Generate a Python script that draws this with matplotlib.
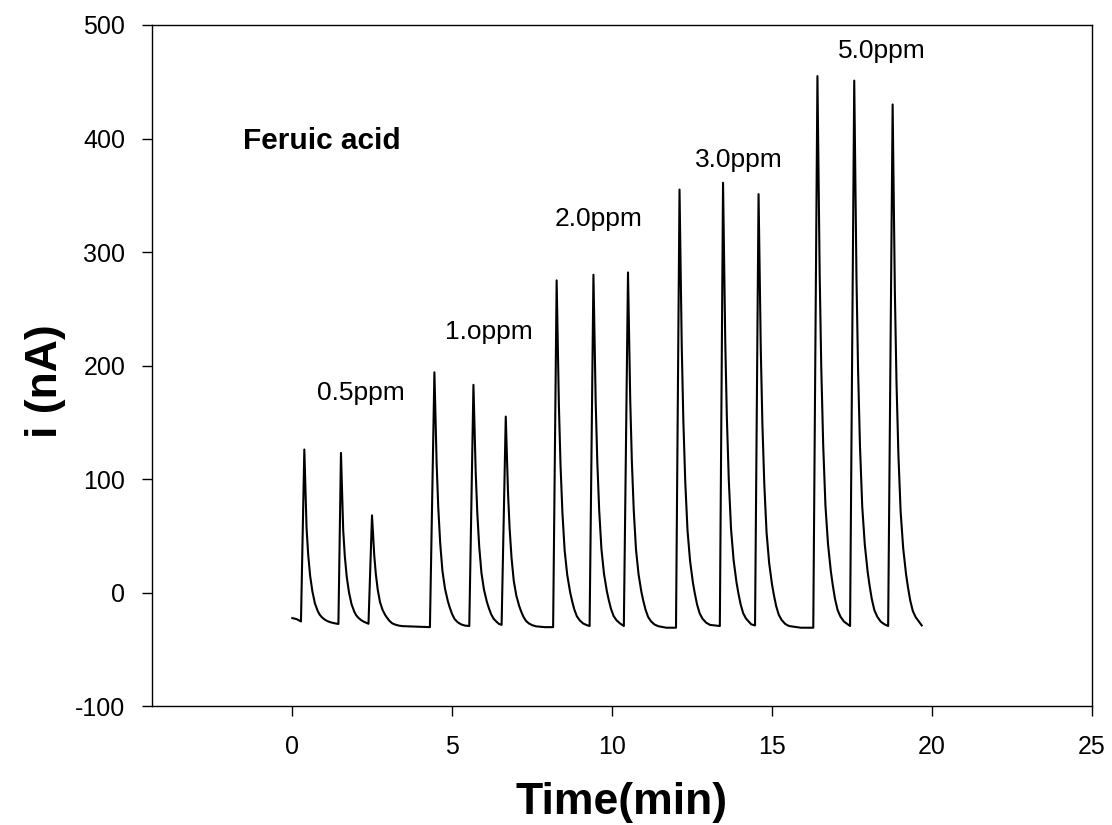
"""Amperometric response of ferulic acid at increasing concentrations."""

import matplotlib.pyplot as plt
import numpy as np

plt.rcParams["font.family"] = ["Liberation Sans", "DejaVu Sans"]
plt.rcParams["axes.unicode_minus"] = False

t_05ppm = [0.01, 0.15, 0.28, 0.385, 0.415, 0.455, 0.505, 0.565, 0.635, 0.715, 0.805, 0.865, 0.935, 1.015,
           1.105, 1.215, 1.335,
           1.45, 1.53, 1.56, 1.60, 1.65, 1.71, 1.78, 1.86, 1.95, 2.01, 2.08, 2.16, 2.25,
           2.39, 2.50, 2.53, 2.57, 2.62, 2.68, 2.75, 2.83, 2.92, 2.98, 3.05, 3.13, 3.22, 3.33, 3.45, 3.80]
i_05ppm = [-22.5, -23.5, -25.5, 126, 95.2, 56.7, 33.6, 15.1, 1.3, -9.5, -16.4, -19.5, -21.8, -23.7,
           -25.2, -26.3, -27.1,
           -27.7, 123, 92.7, 54.8, 32.1, 13.9, 0.3, -10.3, -17.1, -20.2, -22.4, -24.3, -25.8,
           -27.5, 68, 52.3, 32.7, 16.1, 2.3, -8.4, -15.3, -20.2, -22.6, -25.1, -27.1, -28.2, -29.1, -29.6, -30.0]

t_10ppm = [4.31, 4.45, 4.48, 4.52, 4.57, 4.63, 4.70, 4.78, 4.87, 4.93, 5.00, 5.08, 5.17, 5.28, 5.40,
           5.54, 5.67, 5.70, 5.74, 5.79, 5.85, 5.92, 6.00, 6.09, 6.15, 6.22, 6.30, 6.39, 6.47,
           6.55, 6.68, 6.71, 6.75, 6.80, 6.86, 6.93, 7.01, 7.10, 7.16, 7.23, 7.31, 7.40, 7.51, 7.63, 7.90]
i_10ppm = [-30.5, 194, 158.2, 113.4, 75.3, 43.9, 19.3, 3.6, -7.6, -13.2, -18.8, -23.3, -26.0, -28.0, -29.1,
           -29.5, 183, 149, 106.5, 70.4, 40.6, 17.3, 2.4, -8.2, -13.6, -18.9, -23.1, -25.7, -27.7,
           -28.5, 155, 125.3, 88.2, 56.7, 30.7, 10.3, -2.7, -11.9, -16.6, -21.2, -24.9, -27.2, -28.8, -29.8, -30.5]

t_20ppm = [8.16, 8.27, 8.30, 8.34, 8.39, 8.45, 8.52, 8.60, 8.69, 8.75, 8.82, 8.90, 8.99, 9.10, 9.22,
           9.30, 9.42, 9.45, 9.49, 9.54, 9.60, 9.67, 9.75, 9.84, 9.90, 9.97, 10.05, 10.14, 10.25,
           10.37, 10.50, 10.53, 10.57, 10.62, 10.68, 10.75, 10.83, 10.92, 10.98, 11.05, 11.13, 11.22, 11.33,
           11.45, 11.70]
i_20ppm = [-30.5, 275, 226.2, 165.2, 113.4, 70.7, 37.1, 15.8, 0.5, -7.1, -14.7, -20.8, -24.5, -27.3, -28.8,
           -29.5, 280, 230.4, 168.4, 115.7, 72.3, 38.2, 16.5, 1.0, -6.7, -14.5, -20.7, -24.4, -27.2,
           -29.5, 282, 231.9, 169.3, 116.1, 72.3, 37.9, 16.0, 0.3, -7.5, -15.3, -21.6, -25.4, -28.2,
           -29.7, -31.0]

t_30ppm = [12.00, 12.11, 12.14, 12.18, 12.23, 12.29, 12.36, 12.44, 12.53, 12.59, 12.66, 12.74, 12.83,
           12.94, 13.06,
           13.37, 13.47, 13.50, 13.54, 13.59, 13.65, 13.72, 13.80, 13.89, 13.95, 14.02, 14.10, 14.19, 14.35,
           14.47, 14.58, 14.61, 14.65, 14.70, 14.76, 14.83, 14.91, 15.00, 15.06, 15.13, 15.21, 15.30, 15.41,
           15.53, 15.90]
i_30ppm = [-31.0, 355, 293.4, 216.4, 151.0, 97.1, 54.7, 27.8, 8.5, -1.1, -10.7, -18.4, -23.1,
           -26.5, -28.5,
           -29.5, 361, 298.4, 220.2, 153.8, 99.0, 56.0, 28.7, 9.1, -0.7, -10.4, -18.3, -23.0, -28.0,
           -29.0, 351, 289.9, 213.5, 148.5, 95.1, 53.0, 26.3, 7.2, -2.3, -11.9, -19.5, -24.1, -27.6,
           -29.5, -31.0]

t_50ppm = [16.29, 16.42, 16.45, 16.49, 16.54, 16.60, 16.67, 16.75, 16.84, 16.90, 16.97, 17.05, 17.14,
           17.25, 17.37,
           17.44, 17.57, 17.60, 17.64, 17.69, 17.75, 17.82, 17.90, 17.99, 18.05, 18.12, 18.20, 18.29, 18.40,
           18.52,
           18.63, 18.77, 18.80, 18.84, 18.89, 18.95, 19.02, 19.10, 19.19, 19.25, 19.32, 19.40, 19.49, 19.60,
           19.68]
i_50ppm = [-31.0, 455, 377.4, 280.4, 198.0, 130.0, 76.7, 42.8, 18.5, 6.4, -5.7, -15.4, -21.3,
           -25.6, -28.1,
           -29.5, 451, 374.0, 277.8, 196.1, 128.7, 75.8, 42.2, 18.1, 6.1, -5.9, -15.6, -21.3, -25.7,
           -28.1,
           -29.5, 430, 356.4, 264.4, 186.2, 121.8, 71.2, 39.0, 16.0, 4.5, -7.0, -16.2, -21.7, -25.9,
           -29.0]

conc_labels = ["0.5ppm", "1.oppm", "2.0ppm", "3.0ppm", "5.0ppm"]
label_x = [0.78, 4.78, 8.22, 12.59, 17.06]
label_y = [170, 223, 323, 375, 471]


def main() -> None:
    time = np.concatenate([t_05ppm, t_10ppm, t_20ppm, t_30ppm, t_50ppm])
    current = np.concatenate([i_05ppm, i_10ppm, i_20ppm, i_30ppm, i_50ppm])

    fig = plt.figure(figsize=(11.12, 8.25), dpi=100)
    ax = fig.add_axes([0.1367, 0.1442, 0.8453, 0.8255])
    ax.plot(time, current, color="black", lw=1.5, solid_joinstyle="round")

    ax.set_xlim(-4.375, 25)
    ax.set_ylim(-100, 500)
    ax.set_xticks(range(0, 26, 5))
    ax.set_yticks(range(-100, 501, 100))
    ax.tick_params(direction="out", length=7.2, width=1.0, labelsize=18)
    ax.tick_params(axis="x", pad=14)
    ax.tick_params(axis="y", pad=12)
    for spine in ax.spines.values():
        spine.set_linewidth(1.0)

    ax.set_xlabel("Time(min)", fontsize=32, fontweight="bold", labelpad=16)
    ax.set_ylabel("i (nA)", fontsize=32, fontweight="bold")
    ax.yaxis.set_label_coords(-0.092, 0.477)

    ax.text(-1.52, 390.5, "Feruic acid", fontsize=21.5, fontweight="bold", ha="left", va="baseline")
    for text, x, y in zip(conc_labels, label_x, label_y):
        ax.text(x, y, text, fontsize=19, ha="left", va="baseline")

    fig.savefig("out.png", dpi=100)


if __name__ == "__main__":
    main()
